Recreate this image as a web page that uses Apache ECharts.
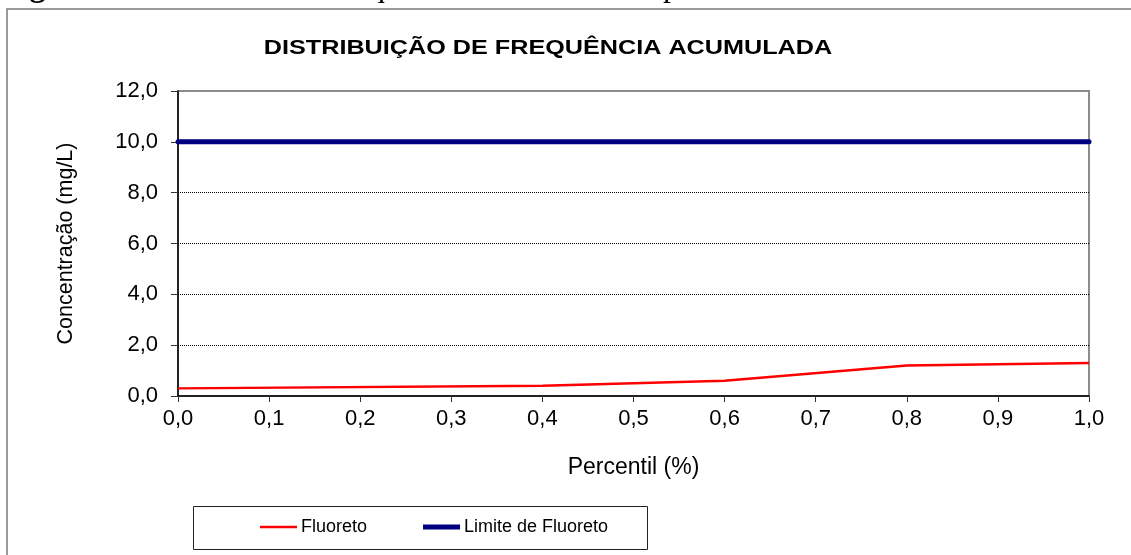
<!DOCTYPE html>
<html>
<head>
<meta charset="utf-8">
<script src="https://cdn.jsdelivr.net/npm/echarts@6/dist/echarts.min.js"></script>
<style>
  html, body { margin: 0; padding: 0; background: #fff; }
  #chart { width: 1131px; height: 555px; }
</style>
</head>
<body>
<div id="chart"></div>
<script>
// dados
var percentil = [0.0, 0.4, 0.6, 0.8, 1.0]
var fluoreto = [0.3, 0.4, 0.6, 1.2, 1.3]
var limite = 10.0
var legendNames = ['Fluoreto', 'Limite de Fluoreto']

var fmt = function (v) { return v.toFixed(1).replace('.', ',') }

var chart = echarts.init(document.getElementById('chart'))
chart.setOption({
  animation: false,
  backgroundColor: '#fff',
  textStyle: { fontFamily: 'Liberation Sans, Arial, sans-serif' },
  graphic: [
    {
      type: 'rect',
      shape: { x: 7, y: 9, width: 1130, height: 560 },
      style: { fill: 'none', stroke: '#7a7a7a', lineWidth: 1.5 },
      silent: true
    },
    {
      // caixa da legenda
      type: 'rect',
      shape: { x: 193.5, y: 506.5, width: 454, height: 43 },
      style: { fill: 'none', stroke: '#222', lineWidth: 1 },
      silent: true
    },
    {
      // legenda da figura, cortada no topo
      type: 'text',
      x: 0,
      y: 0,
      style: {
        text: '{b|Figura 5.28 –} Gráfico de frequência acumulada do parâmetro Fluoreto.',
        x: 1,
        y: -12,
        verticalAlign: 'middle',
        font: '32px "Liberation Serif", serif',
        fill: '#000',
        rich: {
          b: { fontWeight: 'bold', fontSize: 32, fontFamily: 'Liberation Serif' }
        }
      },
      silent: true
    },
    {
      type: 'text',
      x: 548,
      y: 48,
      scaleX: 1.2,
      style: {
        text: 'DISTRIBUIÇÃO DE FREQUÊNCIA ACUMULADA',
        x: 0,
        y: 0,
        align: 'center',
        verticalAlign: 'middle',
        font: 'bold 21px "Liberation Sans", Arial',
        fill: '#000'
      },
      silent: true
    }
  ],
  legend: {
    left: 260,
    top: 517,
    padding: 0,
    itemWidth: 37,
    itemHeight: 20,
    itemGap: 56,
    data: [
      { name: legendNames[0], icon: 'path://M0,0 L37,0 L37,2.5 L0,2.5 Z' },
      { name: legendNames[1], icon: 'path://M0,0 L37,0 L37,5 L0,5 Z' }
    ],
    textStyle: {
      fontSize: 18,
      lineHeight: 20,
      color: '#000',
      fontFamily: '"Liberation Sans Narrow", "Arial Narrow", "Liberation Sans"',
      padding: [0, 0, 0, -1]
    }
  },
  grid: {
    left: 178,
    right: 42,
    top: 91,
    bottom: 159,
    show: true,
    borderColor: '#8c8c8c',
    borderWidth: 2
  },
  xAxis: {
    type: 'value',
    min: 0,
    max: 1,
    interval: 0.1,
    name: 'Percentil (%)',
    nameLocation: 'middle',
    nameGap: 60,
    nameTextStyle: { fontSize: 23, color: '#000' },
    axisLine: { onZero: false, lineStyle: { color: '#000', width: 1.5 } },
    axisTick: { length: 6, lineStyle: { color: '#333' } },
    axisLabel: { fontSize: 22, color: '#000', margin: 12, formatter: fmt },
    splitLine: { show: false }
  },
  yAxis: {
    type: 'value',
    min: 0,
    max: 12,
    interval: 2,
    name: 'Concentração (mg/L)',
    nameLocation: 'middle',
    nameGap: 101,
    nameRotate: 90,
    nameTextStyle: { fontSize: 21.5, color: '#000' },
    axisLine: { show: true, lineStyle: { color: '#000', width: 1.5 } },
    axisTick: { show: true, length: 7, lineStyle: { color: '#333' } },
    axisLabel: { fontSize: 22, color: '#000', margin: 20, formatter: fmt },
    splitLine: {
      show: true,
      showMinLine: false,
      showMaxLine: false,
      lineStyle: { color: '#000', type: [1, 1], width: 1 }
    }
  },
  series: [
    {
      name: legendNames[0],
      type: 'line',
      symbol: 'none',
      color: '#ff0000',
      lineStyle: { color: '#ff0000', width: 2.5 },
      data: percentil.map(function (p, i) { return [p, fluoreto[i]] }),
      z: 3
    },
    {
      name: legendNames[1],
      type: 'line',
      symbol: 'none',
      color: '#000080',
      lineStyle: { color: '#000080', width: 5, cap: 'round' },
      data: [[percentil[0], limite], [percentil[percentil.length - 1], limite]],
      z: 4
    }
  ]
})
</script>
</body>
</html>
